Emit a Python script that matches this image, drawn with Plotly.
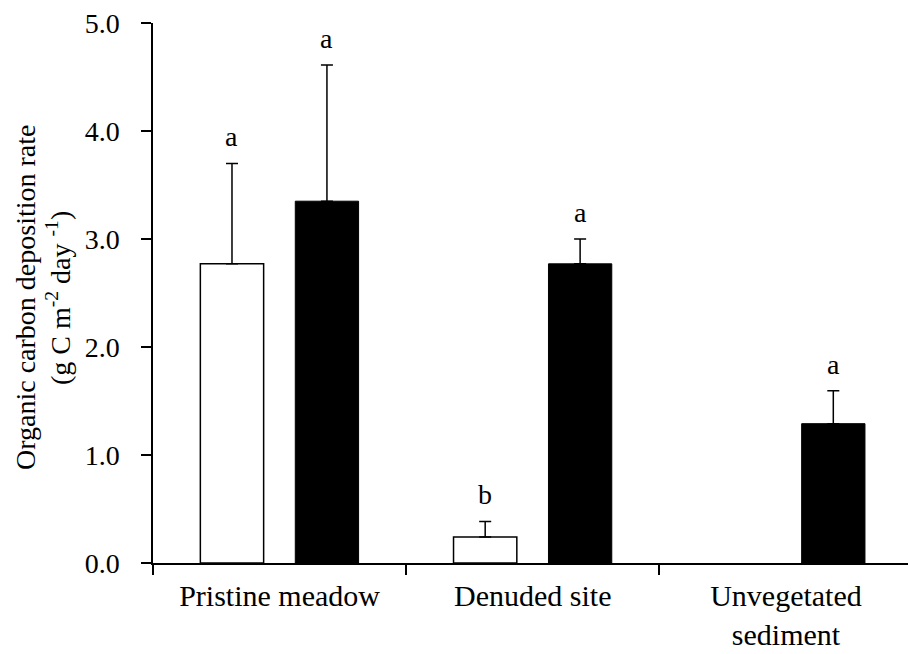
import plotly.graph_objects as go

categories = ["Pristine meadow", "Denuded site", "Unvegetated<br>sediment"]
white_values = [2.77, 0.24, None]
white_errors = [0.93, 0.145, None]
black_values = [3.35, 2.77, 1.29]
black_errors = [1.26, 0.23, 0.305]
white_letters = ["a", "b", ""]
black_letters = ["a", "a", "a"]
y_ticks = [0.0, 1.0, 2.0, 3.0, 4.0, 5.0]
title_line1 = "Organic carbon deposition rate"
title_line2 = "(g C m<sup>-2</sup> day <sup>-1</sup>)"

FONT = "Liberation Serif, Times New Roman, serif"
BAR_W = 0.25
W_OFF = -0.313
B_OFF = 0.062

W, H = 908, 654
L, R, T, B = 153, 0, 22.7, 654 - 563.3
pw, ph = W - L - R, H - T - B


def px_to_paper(xp, yp):
    return (xp - L) / pw, (H - B - yp) / ph


fig = go.Figure()
fig.add_trace(go.Bar(
    x=categories, y=white_values, width=BAR_W, offset=W_OFF,
    marker=dict(color="white", line=dict(color="black", width=1.5)),
    error_y=dict(type="data", array=white_errors, symmetric=False,
                 arrayminus=[0, 0, 0], color="black", thickness=1.5, width=6),
    showlegend=False,
))
fig.add_trace(go.Bar(
    x=categories, y=black_values, width=BAR_W, offset=B_OFF,
    marker=dict(color="black", line=dict(color="black", width=1)),
    error_y=dict(type="data", array=black_errors, symmetric=False,
                 arrayminus=[0, 0, 0], color="black", thickness=1.5, width=6),
    showlegend=False,
))

annotations = []
for i, cat in enumerate(categories):
    for vals, errs, letters, off in ((white_values, white_errors, white_letters, W_OFF),
                                     (black_values, black_errors, black_letters, B_OFF)):
        if vals[i] is None or not letters[i]:
            continue
        annotations.append(dict(
            x=i + off + BAR_W / 2, y=vals[i] + errs[i], xref="x", yref="y",
            text=letters[i], showarrow=False, yanchor="bottom", xanchor="center",
            yshift=9, font=dict(family=FONT, size=28, color="black"),
        ))

for text, xp in ((title_line1, 26), (title_line2, 59)):
    ax, ay = px_to_paper(xp, 298)
    annotations.append(dict(
        x=ax, y=ay, xref="paper", yref="paper", text=text, showarrow=False,
        textangle=-90, xanchor="center", yanchor="middle",
        font=dict(family=FONT, size=28, color="black"),
    ))

fig.update_layout(
    width=W, height=H,
    margin=dict(l=L, r=R, t=T, b=B, pad=0, autoexpand=False),
    plot_bgcolor="white", paper_bgcolor="white",
    barmode="overlay",
    font=dict(family=FONT, size=28, color="black"),
    annotations=annotations,
    xaxis=dict(
        type="category", range=[-0.5, 2.482], automargin=False,
        showline=True, linecolor="black", linewidth=1.5,
        ticks="outside", tickson="boundaries", ticklen=10, tickwidth=1.5,
        tickcolor="black", showgrid=False, zeroline=False,
        ticklabelstandoff=5,
        tickfont=dict(family=FONT, size=30, color="black"),
    ),
    yaxis=dict(
        range=[0, 5], tickvals=y_ticks, ticktext=[f"{v:.1f}" for v in y_ticks],
        automargin=False,
        showline=True, linecolor="black", linewidth=1.5,
        ticks="outside", ticklen=10, tickwidth=1.5, tickcolor="black",
        showgrid=False, zeroline=False, ticklabelstandoff=16,
        tickfont=dict(family=FONT, size=28, color="black"),
    ),
)

fig.write_html("out.html")
